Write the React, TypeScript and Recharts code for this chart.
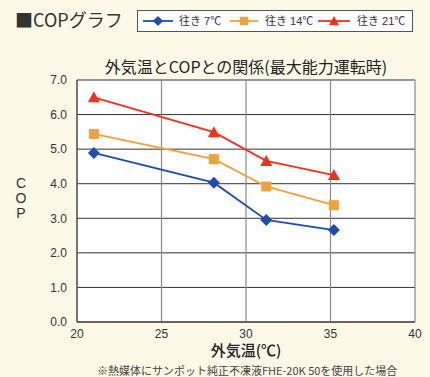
import { LineChart, Line, XAxis, YAxis, CartesianGrid, Legend } from "recharts";

const temps = [21, 28.1, 31.2, 35.2];
const cop7 = [4.89, 4.03, 2.95, 2.66];
const cop14 = [5.44, 4.71, 3.92, 3.38];
const cop21 = [6.5, 5.49, 4.66, 4.25];
const xTicks = [20, 25, 30, 35, 40];
const yTicks = [0, 1, 2, 3, 4, 5, 6, 7];

const SERIES = [
  { key: "c7", name: "往き 7℃", color: "#1f4db3", shape: "diamond" },
  { key: "c14", name: "往き 14℃", color: "#f2a23c", shape: "square" },
  { key: "c21", name: "往き 21℃", color: "#f0321e", shape: "triangle" },
];

const data = temps.map((t, i) => ({ t, c7: cop7[i], c14: cop14[i], c21: cop21[i] }));

const FONT = '"Liberation Sans", "Noto Sans CJK JP", sans-serif';
const JP = '"Noto Sans CJK JP", sans-serif';

function Marker({ cx, cy, shape, color }: { cx: number; cy: number; shape: string; color: string }) {
  if (shape === "diamond")
    return <polygon points={`${cx},${cy - 6} ${cx + 6},${cy} ${cx},${cy + 6} ${cx - 6},${cy}`} fill={color} />;
  if (shape === "square")
    return <rect x={cx - 5} y={cy - 5} width={10} height={10} fill={color} />;
  return <polygon points={`${cx},${cy - 6} ${cx + 6},${cy + 5} ${cx - 6},${cy + 5}`} fill={color} />;
}

function makeDot(shape: string, color: string) {
  return (p: any) => <Marker key={`${shape}-${p.index}`} cx={p.cx} cy={p.cy} shape={shape} color={color} />;
}

function LegendBox() {
  const items = [
    { x: 6, lineW: 30, textX: 42 },
    { x: 93, lineW: 28, textX: 128 },
    { x: 181, lineW: 32, textX: 220 },
  ];
  return (
    <svg width={276} height={22} style={{ display: "block" }}>
      <rect x={0.5} y={0.5} width={275} height={21} fill="#fff" stroke="#555" />
      {SERIES.map((s, i) => {
        const it = items[i];
        const mid = it.x + it.lineW / 2;
        return (
          <g key={s.key}>
            <line x1={it.x} x2={it.x + it.lineW} y1={11} y2={11} stroke={s.color} strokeWidth={1.8} />
            <g transform={`translate(${mid},11) scale(0.85) translate(${-mid},-11)`}>
              <Marker cx={mid} cy={11} shape={s.shape} color={s.color} />
            </g>
            <text x={it.textX} y={15} fontSize={11} fill="#333" fontFamily={FONT}>{s.name}</text>
          </g>
        );
      })}
    </svg>
  );
}

export default function App() {
  return (
    <div style={{ position: "absolute", left: 0, top: 0, width: 430, height: 377, background: "#fcfae6", overflow: "hidden", fontFamily: FONT }}>
      <div style={{ position: "absolute", left: 15, top: 6, fontSize: 18, color: "#333", fontFamily: JP }}>■COPグラフ</div>
      <div style={{ position: "absolute", left: 0, top: 54, width: 492, textAlign: "center", fontSize: 16, color: "#222", fontFamily: JP, fontWeight: 400 }}>
        外気温とCOPとの関係(最大能力運転時)
      </div>
      <div style={{ position: "absolute", left: 14, top: 176, width: 14, textAlign: "center", fontSize: 14, lineHeight: "15px", color: "#333" }}>
        C<br />O<br />P
      </div>
      <div style={{ position: "absolute", left: 0, top: 341, width: 492, textAlign: "center", fontSize: 15, lineHeight: "18px", color: "#222", fontFamily: JP, fontWeight: 500 }}>
        外気温(℃)
      </div>
      <div style={{ position: "absolute", left: 97, top: 364, fontSize: 11, lineHeight: "12px", color: "#444", fontFamily: JP, whiteSpace: "nowrap" }}>
        ※熱媒体にサンポット純正不凍液FHE-20K 50を使用した場合
      </div>
      <LineChart width={430} height={377} data={data} margin={{ top: 58, right: 15, bottom: 25, left: 37 }} style={{ position: "absolute", left: 0, top: 0 }}>
        <CartesianGrid vertical={false} stroke="#333" strokeWidth={1} fill="#fff" />
        <CartesianGrid horizontal={false} stroke="#8a8a8a" strokeWidth={1.2} />
        <XAxis
          type="number"
          dataKey="t"
          domain={[20, 40]}
          ticks={xTicks}
          allowDataOverflow
          tickLine={false}
          axisLine={{ stroke: "#333" }}
          tick={{ fill: "#333", fontSize: 12, fontFamily: FONT }}
          tickMargin={1}
        />
        <YAxis
          type="number"
          domain={[0, 7]}
          ticks={yTicks}
          width={40}
          tickLine={false}
          axisLine={{ stroke: "#333" }}
          tickFormatter={(v: number) => v.toFixed(1)}
          tick={{ fill: "#333", fontSize: 12, fontFamily: FONT }}
          tickMargin={4}
        />
        <Legend
          verticalAlign="top"
          content={() => <LegendBox />}
          wrapperStyle={{ position: "absolute", left: 137, top: 10, width: 276, height: 22 }}
        />
        {SERIES.map((s) => (
          <Line
            key={s.key}
            type="linear"
            dataKey={s.key}
            name={s.name}
            stroke={s.color}
            strokeWidth={1.8}
            dot={makeDot(s.shape, s.color)}
            isAnimationActive={false}
          />
        ))}
      </LineChart>
    </div>
  );
}
